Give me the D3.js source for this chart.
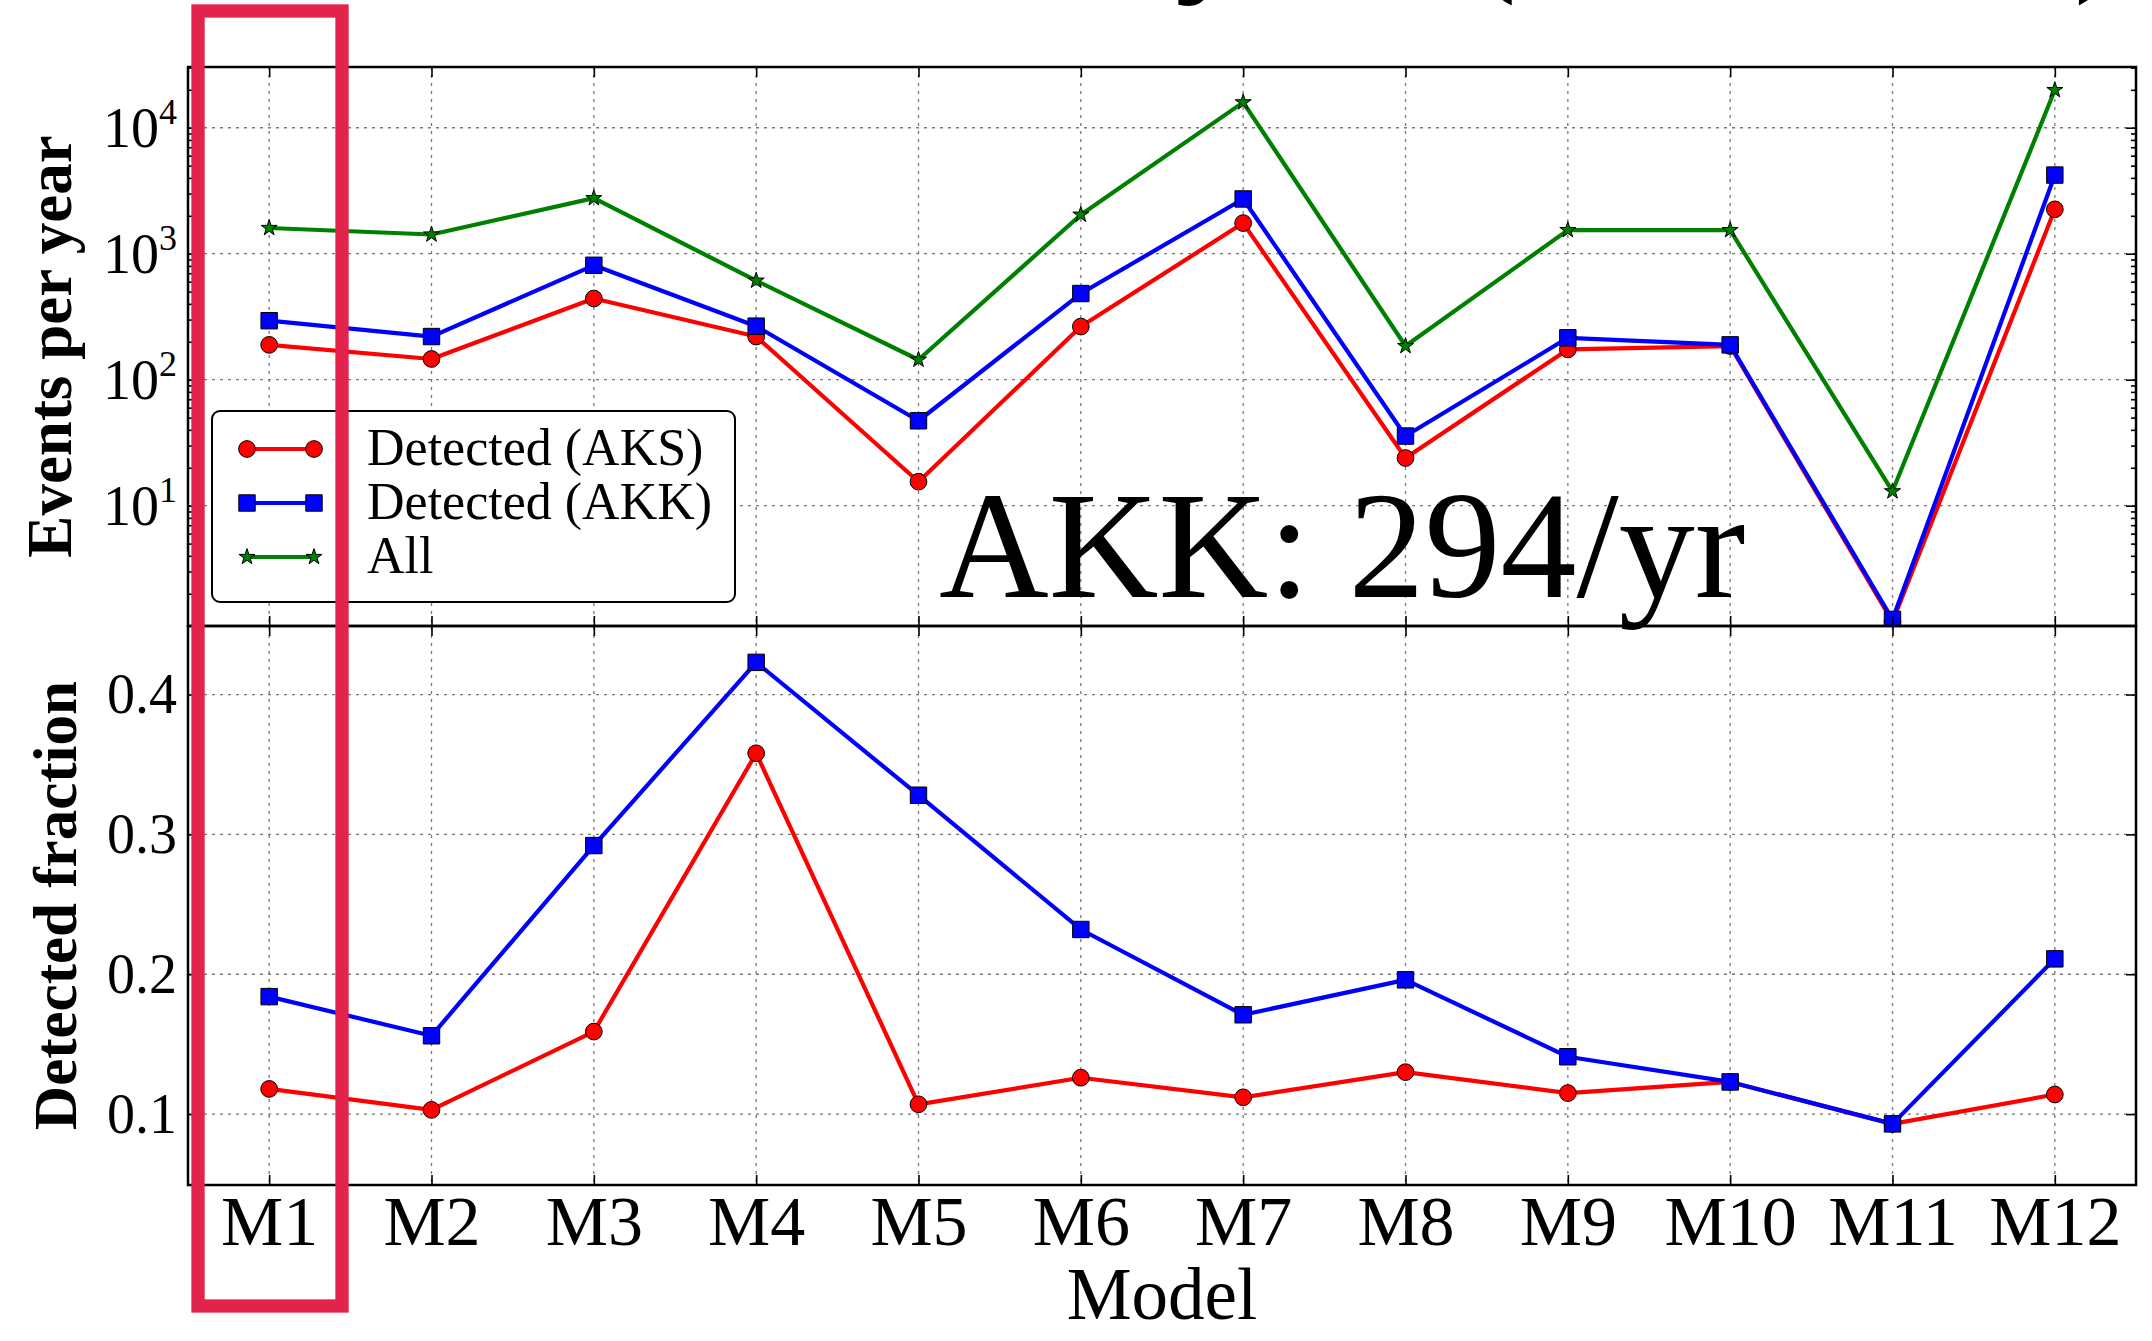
<!DOCTYPE html>
<html>
<head>
<meta charset="utf-8">
<script src="https://cdn.jsdelivr.net/npm/d3@7"></script>
<style>
  body { margin: 0; background: #fff; }
  svg text { font-family: "Liberation Serif", "Times New Roman", serif; fill: #000; }
</style>
</head>
<body>
<svg width="2152" height="1341"></svg>
<script>
// values
var models = ["M1","M2","M3","M4","M5","M6","M7","M8","M9","M10","M11","M12"];
var allEvents = [1600, 1420, 2760, 611, 144, 2040, 15900, 185, 1540, 1540, 13.0, 19900];
var aksEvents = [189, 146, 441, 220, 15.5, 264, 1750, 23.9, 174, 185, 1.2, 2250];
var akkEvents = [294, 220, 809, 266, 47.2, 483, 2720, 35.7, 215, 189, 1.25, 4210];
var aksFrac = [0.118, 0.103, 0.159, 0.358, 0.107, 0.126, 0.112, 0.130, 0.115, 0.123, 0.093, 0.114];
var akkFrac = [0.184, 0.156, 0.292, 0.423, 0.328, 0.232, 0.171, 0.196, 0.141, 0.123, 0.093, 0.211];
var logTicks = [10, 100, 1000, 10000];
var fracTicks = [0.1, 0.2, 0.3, 0.4];
var seriesNames = ["Detected (AKS)", "Detected (AKK)", "All"];

var svg = d3.select("svg"),
    left = 188, right = 2136,
    top1 = 67, mid = 626, bot2 = 1185;

var x = d3.scalePoint().domain(models).range([left, right]).padding(0.5);
var yTop = d3.scaleLog().domain([Math.pow(10, 0.045), Math.pow(10, 4.482)]).range([mid, top1]);
var yBot = d3.scaleLinear().domain([0.0493, 0.449]).range([bot2, mid]);

var series = [
  {name: seriesNames[0], color: "#ff0000", symbol: d3.symbolCircle, size: 220, top: aksEvents, bot: aksFrac},
  {name: seriesNames[1], color: "#0000ff", symbol: d3.symbolSquare, size: 270, top: akkEvents, bot: akkFrac},
  {name: seriesNames[2], color: "#008000", symbol: d3.symbolStar, size: 80, top: allEvents, bot: null}
];

// title is cut off at the top, only the glyph bottoms show
[["y", 1175, -27], ["(", 1466, -27], [")", 2074, -27]].forEach(function(t) {
  svg.append("text").attr("x", t[1]).attr("y", t[2])
    .attr("font-size", 152).text(t[0]);
});

// grid
var grid = svg.append("g")
    .attr("stroke", "#777").attr("stroke-width", 1.3)
    .attr("stroke-dasharray", "3,5").attr("fill", "none");
models.forEach(function(m) {
  grid.append("line").attr("x1", x(m)).attr("x2", x(m)).attr("y1", top1).attr("y2", bot2);
});
logTicks.forEach(function(v) {
  grid.append("line").attr("x1", left).attr("x2", right).attr("y1", yTop(v)).attr("y2", yTop(v));
});
fracTicks.forEach(function(v) {
  grid.append("line").attr("x1", left).attr("x2", right).attr("y1", yBot(v)).attr("y2", yBot(v));
});

// data
svg.append("clipPath").attr("id", "clipTop").append("rect")
    .attr("x", left).attr("y", top1 - 10).attr("width", right - left).attr("height", mid - top1 + 10);
svg.append("clipPath").attr("id", "clipBot").append("rect")
    .attr("x", left).attr("y", mid).attr("width", right - left).attr("height", bot2 - mid);

function drawSeries(s, values, y, clip) {
  var g = svg.append("g").attr("clip-path", "url(#" + clip + ")");
  var line = d3.line()
      .x(function(d, i) { return x(models[i]); })
      .y(function(d) { return y(d); });
  g.append("path").datum(values)
      .attr("d", line)
      .attr("fill", "none")
      .attr("stroke", s.color)
      .attr("stroke-width", 4.2)
      .attr("stroke-linejoin", "round");
  g.selectAll("path.mk").data(values).enter().append("path")
      .attr("class", "mk")
      .attr("transform", function(d, i) { return "translate(" + x(models[i]) + "," + y(d) + ")"; })
      .attr("d", d3.symbol().type(s.symbol).size(s.size))
      .attr("fill", s.color)
      .attr("stroke", "#000")
      .attr("stroke-width", 1);
}
series.forEach(function(s) {
  drawSeries(s, s.top, yTop, "clipTop");
  if (s.bot) drawSeries(s, s.bot, yBot, "clipBot");
});

// axes (ticks point inward)
function axisG(axis, tx, ty) {
  var g = svg.append("g").attr("transform", "translate(" + tx + "," + ty + ")").call(axis);
  g.select(".domain").remove();
  g.selectAll(".tick line").attr("stroke", "#000").attr("stroke-width", 1.6);
  return g;
}
axisG(d3.axisTop(x).tickSize(-10).tickFormat(""), 0, top1);
axisG(d3.axisBottom(x).tickSize(-10).tickFormat(""), 0, mid);
axisG(d3.axisTop(x).tickSize(-10).tickFormat(""), 0, mid);
var xAxis = axisG(d3.axisBottom(x).tickSize(-10).tickPadding(10), 0, bot2);
xAxis.selectAll("text").attr("font-size", 70).attr("fill", "#000");

var minor = yTop.ticks().filter(function(v) { return logTicks.indexOf(v) < 0; });
axisG(d3.axisLeft(yTop).tickValues(logTicks).tickSize(-10).tickFormat(""), left, 0);
axisG(d3.axisRight(yTop).tickValues(logTicks).tickSize(-10).tickFormat(""), right, 0);
axisG(d3.axisLeft(yTop).tickValues(minor).tickSize(-5).tickFormat(""), left, 0);
axisG(d3.axisRight(yTop).tickValues(minor).tickSize(-5).tickFormat(""), right, 0);

var yAxisB = axisG(d3.axisLeft(yBot).tickValues(fracTicks).tickSize(-10).tickPadding(11).tickFormat(d3.format(".1f")), left, 0);
yAxisB.selectAll("text").attr("font-size", 56).attr("fill", "#000");
axisG(d3.axisRight(yBot).tickValues(fracTicks).tickSize(-10).tickFormat(""), right, 0);

// log tick labels 10^n
logTicks.forEach(function(v) {
  var t = svg.append("text")
      .attr("x", left - 11).attr("y", yTop(v) + 19)
      .attr("text-anchor", "end").attr("font-size", 56);
  t.append("tspan").text("10");
  t.append("tspan").attr("font-size", 36).attr("dy", -23).text(String(Math.round(Math.log10(v))));
});

// frames
svg.append("rect").attr("x", left).attr("y", top1).attr("width", right - left).attr("height", mid - top1)
    .attr("fill", "none").attr("stroke", "#000").attr("stroke-width", 2.5);
svg.append("rect").attr("x", left).attr("y", mid).attr("width", right - left).attr("height", bot2 - mid)
    .attr("fill", "none").attr("stroke", "#000").attr("stroke-width", 2.5);

// axis titles
svg.append("text").attr("transform", "translate(71," + ((top1 + mid) / 2) + ") rotate(-90)")
    .attr("text-anchor", "middle").attr("font-size", 63).attr("font-weight", "bold")
    .text("Events per year");
svg.append("text").attr("transform", "translate(76," + ((mid + bot2) / 2) + ") rotate(-90)")
    .attr("text-anchor", "middle").attr("font-size", 61).attr("font-weight", "bold")
    .text("Detected fraction");
svg.append("text").attr("x", (left + right) / 2).attr("y", 1319)
    .attr("text-anchor", "middle").attr("font-size", 73)
    .text("Model");

// legend
var legend = svg.append("g");
legend.append("rect").attr("x", 212).attr("y", 411).attr("width", 523).attr("height", 191)
    .attr("rx", 8).attr("fill", "#fff").attr("stroke", "#000").attr("stroke-width", 2);
var rows = legend.selectAll("g.row").data(series).enter().append("g")
    .attr("class", "row")
    .attr("transform", function(d, i) { return "translate(0," + (449 + i * 54) + ")"; });
rows.append("line").attr("x1", 247).attr("x2", 314)
    .attr("stroke", function(d) { return d.color; }).attr("stroke-width", 4);
[247, 314].forEach(function(px) {
  rows.append("path")
      .attr("transform", "translate(" + px + ",0)")
      .attr("d", function(d) { return d3.symbol().type(d.symbol).size(d.size)(); })
      .attr("fill", function(d) { return d.color; })
      .attr("stroke", "#000").attr("stroke-width", 1);
});
rows.append("text").attr("x", 367).attr("y", 16).attr("font-size", 52)
    .text(function(d) { return d.name; });

// annotation
svg.append("text").attr("x", 939).attr("y", 597).attr("font-size", 152)
    .text("AKK: 294/yr");

// highlight box around M1
svg.append("rect").attr("x", 198).attr("y", 11).attr("width", 144).attr("height", 1295)
    .attr("fill", "none").attr("stroke", "#e2234b").attr("stroke-width", 13.3);
</script>
</body>
</html>
